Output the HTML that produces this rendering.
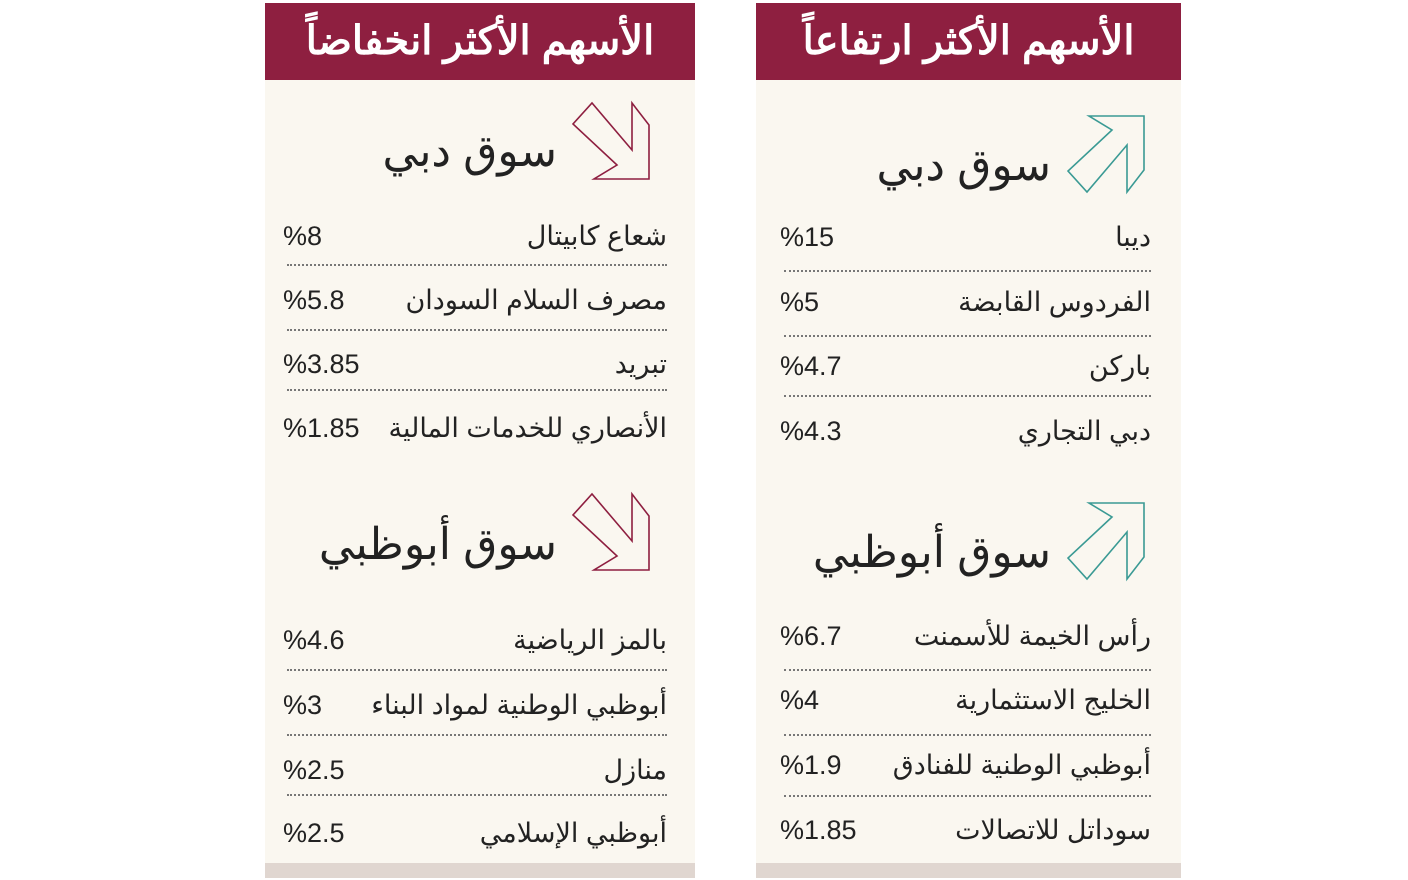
<!DOCTYPE html>
<html><head><meta charset="utf-8"><style>
body{margin:0;width:1408px;height:880px;background:#fff;position:relative;overflow:hidden;font-family:"Liberation Sans","Noto Sans CJK SC",sans-serif;}
.p{position:absolute;top:3px;height:875px;background:#faf7f0;}
.h{position:absolute;left:0;right:0;top:0;height:77px;background:#8e1f40;color:#fff;font-weight:bold;font-size:40px;text-align:center;line-height:77px;direction:rtl;}
.b{position:absolute;left:0;right:0;bottom:0;height:15px;background:#e0d6d0;}
.t{position:absolute;direction:rtl;font-size:44px;color:#222;line-height:50px;}
.r{position:absolute;font-size:27px;color:#222;line-height:34px;}
.n{direction:rtl;text-align:right;}
.d{position:absolute;border-top:2px dotted #777;height:0;}
</style></head><body>
<div class="p" style="left:265px;width:430px;">
<div class="h">الأسهم الأكثر انخفاضاً</div><div class="b"></div>
<svg style="position:absolute;left:307px;top:97px" width="80" height="82" viewBox="0 0 80 82"><polygon points="22,79 77,79 77,25 60,3 60,50 20,3 1,24 45,65" fill="none" stroke="#8e1f40" stroke-width="1.6"/></svg>
<div class="t" style="right:138px;top:124px;">سوق دبي</div>
<div class="t" style="right:138px;top:517px;">سوق أبوظبي</div>
</div>
<div class="p" style="left:756px;width:425px;">
<div class="h">الأسهم الأكثر ارتفاعاً</div><div class="b"></div>
<svg style="position:absolute;left:311px;top:110px" width="80" height="82" viewBox="0 0 80 82"><polygon points="22,3 77,3 77,57 60,79 60,32 20,79 1,58 45,17" fill="none" stroke="#3a9a94" stroke-width="1.6"/></svg>
<svg style="position:absolute;left:311px;top:497px" width="80" height="82" viewBox="0 0 80 82"><polygon points="22,3 77,3 77,57 60,79 60,32 20,79 1,58 45,17" fill="none" stroke="#3a9a94" stroke-width="1.6"/></svg>
<div class="t" style="right:130px;top:138px;">سوق دبي</div>
<div class="t" style="right:130px;top:525px;">سوق أبوظبي</div>
</div>
<svg style="position:absolute;left:572px;top:491px" width="80" height="82" viewBox="0 0 80 82"><polygon points="22,79 77,79 77,25 60,3 60,50 20,3 1,24 45,65" fill="none" stroke="#8e1f40" stroke-width="1.6"/></svg>

<div class="r" style="left:283px;top:219px">%8</div><div class="r n" style="right:741px;top:219px">شعاع كابيتال</div>
<div class="d" style="left:287px;width:380px;top:264px"></div>
<div class="r" style="left:283px;top:283px">%5.8</div><div class="r n" style="right:741px;top:283px">مصرف السلام السودان</div>
<div class="d" style="left:287px;width:380px;top:329px"></div>
<div class="r" style="left:283px;top:347px">%3.85</div><div class="r n" style="right:741px;top:347px">تبريد</div>
<div class="d" style="left:287px;width:380px;top:389px"></div>
<div class="r" style="left:283px;top:411px">%1.85</div><div class="r n" style="right:741px;top:411px">الأنصاري للخدمات المالية</div>

<div class="r" style="left:283px;top:623px">%4.6</div><div class="r n" style="right:741px;top:623px">بالمز الرياضية</div>
<div class="d" style="left:287px;width:380px;top:669px"></div>
<div class="r" style="left:283px;top:688px">%3</div><div class="r n" style="right:741px;top:688px">أبوظبي الوطنية لمواد البناء</div>
<div class="d" style="left:287px;width:380px;top:734px"></div>
<div class="r" style="left:283px;top:753px">%2.5</div><div class="r n" style="right:741px;top:753px">منازل</div>
<div class="d" style="left:287px;width:380px;top:794px"></div>
<div class="r" style="left:283px;top:816px">%2.5</div><div class="r n" style="right:741px;top:816px">أبوظبي الإسلامي</div>

<div class="r" style="left:780px;top:220px">%15</div><div class="r n" style="right:257px;top:220px">ديبا</div>
<div class="d" style="left:784px;width:367px;top:270px"></div>
<div class="r" style="left:780px;top:285px">%5</div><div class="r n" style="right:257px;top:285px">الفردوس القابضة</div>
<div class="d" style="left:784px;width:367px;top:335px"></div>
<div class="r" style="left:780px;top:349px">%4.7</div><div class="r n" style="right:257px;top:349px">باركن</div>
<div class="d" style="left:784px;width:367px;top:395px"></div>
<div class="r" style="left:780px;top:414px">%4.3</div><div class="r n" style="right:257px;top:414px">دبي التجاري</div>

<div class="r" style="left:780px;top:619px">%6.7</div><div class="r n" style="right:257px;top:619px">رأس الخيمة للأسمنت</div>
<div class="d" style="left:784px;width:367px;top:669px"></div>
<div class="r" style="left:780px;top:683px">%4</div><div class="r n" style="right:257px;top:683px">الخليج الاستثمارية</div>
<div class="d" style="left:784px;width:367px;top:734px"></div>
<div class="r" style="left:780px;top:748px">%1.9</div><div class="r n" style="right:257px;top:748px">أبوظبي الوطنية للفنادق</div>
<div class="d" style="left:784px;width:367px;top:795px"></div>
<div class="r" style="left:780px;top:813px">%1.85</div><div class="r n" style="right:257px;top:813px">سوداتل للاتصالات</div>
</body></html>
